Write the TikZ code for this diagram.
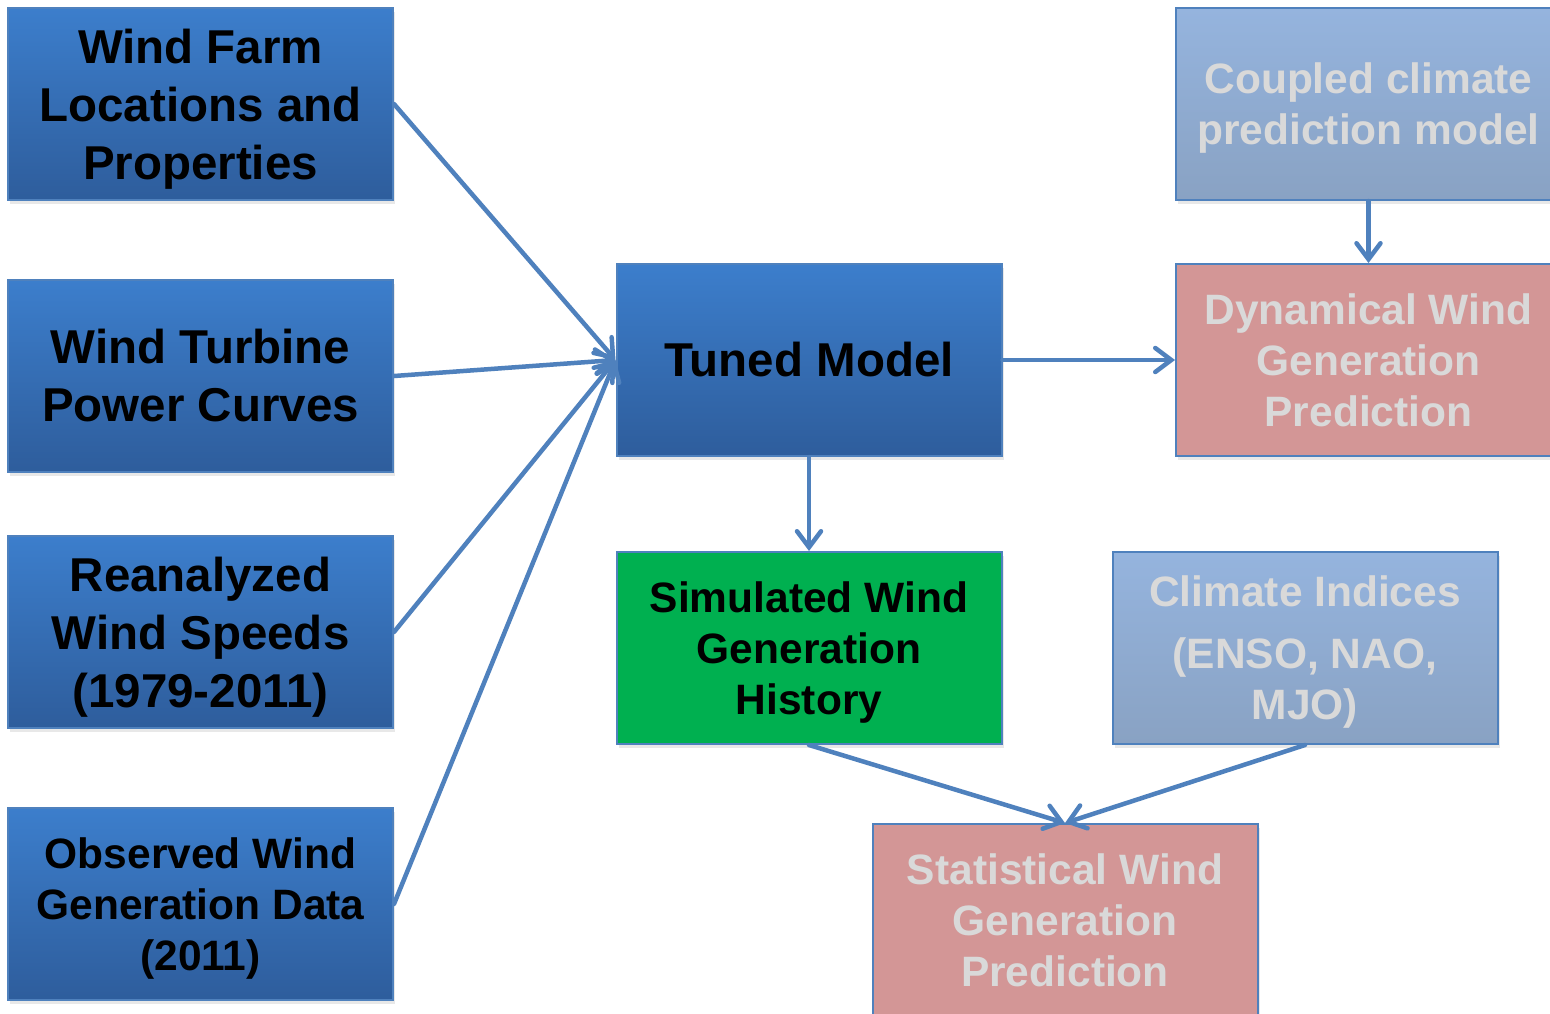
\documentclass[tikz,border=0pt]{standalone}
\usepackage{fontspec}
\setmainfont{Liberation Sans}
\usetikzlibrary{arrows.meta,shadows}
\definecolor{lineblue}{RGB}{79,129,189}
\definecolor{dtop}{RGB}{60,126,204}
\definecolor{dbot}{RGB}{46,93,156}
\definecolor{ltop}{RGB}{149,180,222}
\definecolor{lbot}{RGB}{137,162,195}
\definecolor{pinkfill}{RGB}{211,150,150}
\definecolor{greenfill}{RGB}{0,176,80}
\definecolor{fadetext}{RGB}{217,217,217}
\begin{document}
\begin{tikzpicture}[x=1pt,y=-1pt,
  box/.style={draw=lineblue, line width=2pt, minimum width=385pt, minimum height=192pt,
    inner sep=0pt, align=center,
    drop shadow={shadow xshift=2pt, shadow yshift=-4pt, opacity=0.18}},
  big/.style={font=\bfseries\fontsize{47.5}{58}\selectfont},
  small/.style={font=\bfseries\fontsize{42.5}{51}\selectfont},
  darkbox/.style={box, big, top color=dtop, bottom color=dbot, text=black},
  lightbox/.style={box, small, top color=ltop, bottom color=lbot, text=fadetext},
  pinkbox/.style={box, small, fill=pinkfill, text=fadetext},
  greenbox/.style={box, small, fill=greenfill, text=black},
  conn/.style={draw=lineblue, line width=4.5pt, line cap=round,
    -{Straight Barb[length=16pt,width=24pt,line cap=round]}}
]
\useasboundingbox (0,0) rectangle (1550,1013);
\fill[white] (0,0) rectangle (1550,1013);

\node[darkbox] (wf) at (200.5,104) {Wind Farm\\Locations and\\\smash{Properties}};
\node[darkbox] (wt) at (200.5,376) {Wind Turbine\\Power Curves};
\node[darkbox] (rw) at (200.5,632) {Reanalyzed\\Wind Speeds\\\smash{(1979-2011)}};
\node[darkbox, small] (ow) at (200.5,904) {Observed Wind\\Generation Data\\\smash{(2011)}};
\node[darkbox] (tm) at (809,360) {Tuned Model};
\node[greenbox] (sw) at (809,648) {Simulated Wind\\Generation\\\smash{History}};
\node[lightbox] (cc) at (1368.5,104) {Coupled climate\\\smash{prediction model}};
\node[pinkbox] (dw) at (1368.5,360) {Dynamical Wind\\Generation\\Prediction};
\node[lightbox] (ci) at (1305,648) {Climate Indices\\[11pt](ENSO, NAO,\\\smash{MJO)}};
\node[pinkbox] (st) at (1065,920) {Statistical Wind\\Generation\\Prediction};

\draw[conn] (wf.east) -- (tm.west);
\draw[conn] (wt.east) -- (tm.west);
\draw[conn] (rw.east) -- (tm.west);
\draw[conn] (ow.east) -- (tm.west);
\draw[conn] (tm.east) -- (dw.west);
\draw[conn] (tm.south) -- (sw.north);
\draw[conn] (cc.south) -- (dw.north);
\draw[conn] (sw.south) -- (st.north);
\draw[conn] (ci.south) -- (st.north);
\end{tikzpicture}
\end{document}
